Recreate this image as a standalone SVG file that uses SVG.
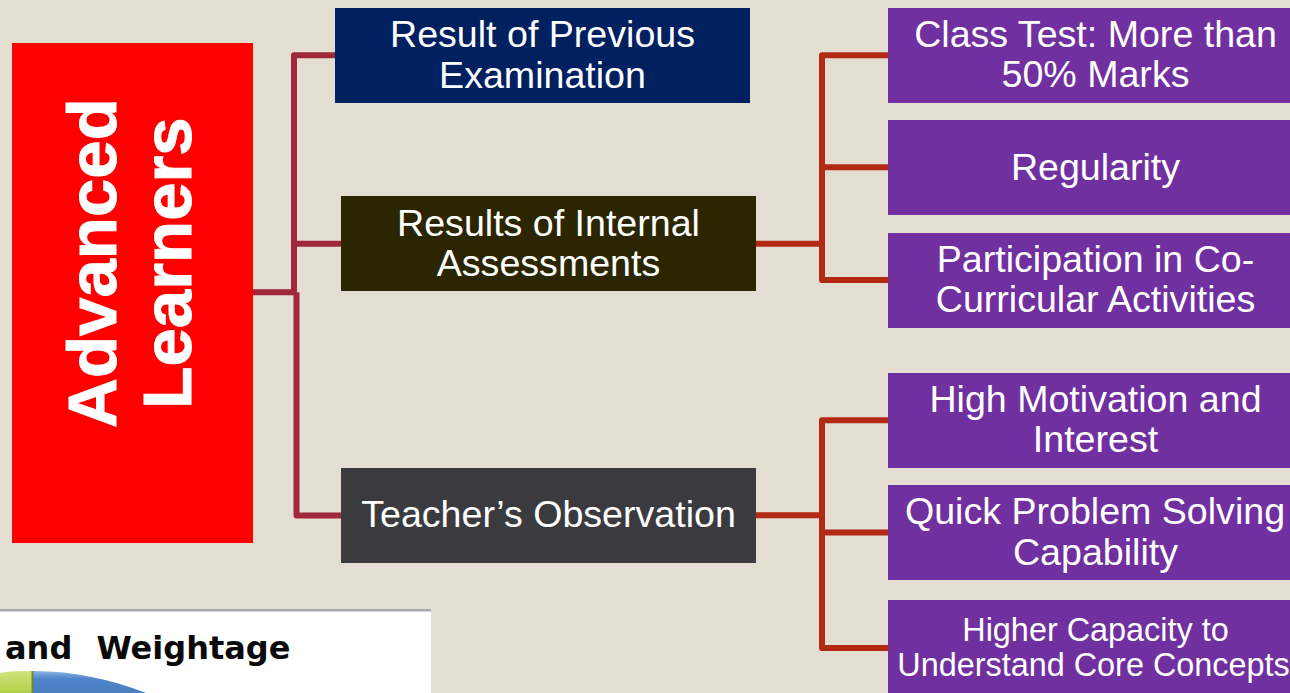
<svg xmlns="http://www.w3.org/2000/svg" width="1290" height="693" viewBox="0 0 1290 693">
<defs>
<linearGradient id="blue" x1="0" y1="0" x2="0" y2="1"><stop offset="0" stop-color="#8db4e3"/><stop offset="0.35" stop-color="#4f86cc"/><stop offset="1" stop-color="#4a7ebf"/></linearGradient>
<linearGradient id="green" x1="0" y1="0" x2="0" y2="1"><stop offset="0" stop-color="#d3e37c"/><stop offset="1" stop-color="#afcf48"/></linearGradient>
</defs>
<style>
text{font-family:"Liberation Sans",Arial,sans-serif;fill:#fff;text-anchor:middle}
.t{font-size:37.600px}
.s{font-size:32.400px}
.b{font-size:69px;font-weight:bold;stroke:#fff;stroke-width:1}
.l1{fill:none;stroke:#a0283a;stroke-width:6;stroke-linejoin:round}
.l2{fill:none;stroke:#b22a12;stroke-width:6;stroke-linejoin:round}
.p{fill:#7030a0}
</style>
<rect width="1290" height="693" fill="#e3ddd2"/>
<g id="chart">
<rect x="0" y="609" width="431" height="84" fill="#fff"/>
<rect x="0" y="609" width="431" height="2.500" fill="#a8a8ae"/>
<path d="M33 671C75 671 112 680 146 693H33Z" fill="url(#blue)"/>
<path d="M0 673C10 671 22 671 33 671V693H0Z" fill="url(#green)"/>
<rect x="31.500" y="671" width="2" height="22" fill="#6d8a35"/>
<text x="5" y="659" style="font-family:'DejaVu Sans',Verdana,sans-serif;font-weight:bold;font-size:32px;fill:#0a0a0a;text-anchor:start;word-spacing:13px">and Weightage</text>
</g>
<g id="connectors">
<path class="l1" d="M253 292.300H297M335 55.300H294V292.300M294 243.700H341M296.500 292.300V515.500H341"/>
<path class="l2" d="M756 243.700H822M888 55.300H822V280H888M822 167.300H888"/>
<path class="l2" d="M756 515.200H822M888 420.300H822V648H888M822 532.500H888"/>
</g>
<g id="advanced-learners">
<rect x="12" y="43" width="241" height="500" fill="#ff0000"/>
<g transform="translate(132.500,263) rotate(-90)"><text class="b" y="-17">Advanced</text><text class="b" y="58">Learners</text></g>
</g>
<g id="previous-exam"><rect x="335" y="8" width="415" height="95" fill="#002060"/><text class="t" x="542.500" y="47">Result of Previous</text><text class="t" x="542.500" y="88">Examination</text></g>
<g id="internal-assessments"><rect x="341" y="196" width="415" height="95" fill="#2b2600"/><text class="t" x="548.500" y="236">Results of Internal</text><text class="t" x="548.500" y="276">Assessments</text></g>
<g id="teacher-observation"><rect x="341" y="468" width="415" height="95" fill="#3b3b3f"/><text class="t" x="548.500" y="527">Teacher’s Observation</text></g>
<g id="class-test"><rect class="p" x="888" y="8" width="402" height="95"/><text class="t" x="1095.500" y="47">Class Test: More than</text><text class="t" x="1095.500" y="87">50% Marks</text></g>
<g id="regularity"><rect class="p" x="888" y="120" width="402" height="95"/><text class="t" x="1095.500" y="180">Regularity</text></g>
<g id="co-curricular"><rect class="p" x="888" y="233" width="402" height="95"/><text class="t" x="1095.500" y="272">Participation in Co-</text><text class="t" x="1095.500" y="312">Curricular Activities</text></g>
<g id="motivation"><rect class="p" x="888" y="373" width="402" height="95"/><text class="t" x="1095.500" y="412">High Motivation and</text><text class="t" x="1095.500" y="452">Interest</text></g>
<g id="problem-solving"><rect class="p" x="888" y="485" width="402" height="95"/><text class="t" x="1095" y="524">Quick Problem Solving</text><text class="t" x="1095.500" y="565">Capability</text></g>
<g id="core-concepts"><rect class="p" x="888" y="600" width="402" height="93"/><text class="s" x="1095.500" y="641">Higher Capacity to</text><text class="s" x="1093.500" y="676">Understand Core Concepts</text></g>
</svg>
